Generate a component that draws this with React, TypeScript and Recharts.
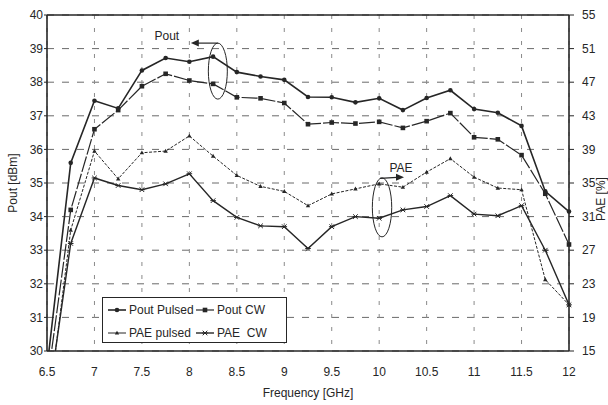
import React from 'react';
import { LineChart, Line, XAxis, YAxis, CartesianGrid, ReferenceLine, ReferenceDot } from 'recharts';

// values (Pout in dBm, PAE in %)
const freqs = [6.5, 6.75, 7, 7.25, 7.5, 7.75, 8, 8.25, 8.5, 8.75, 9, 9.25, 9.5, 9.75, 10, 10.25, 10.5, 10.75, 11, 11.25, 11.5, 11.75, 12];
const poutPulsed = [29.5, 35.6, 37.45, 37.22, 38.35, 38.72, 38.61, 38.76, 38.3, 38.17, 38.07, 37.56, 37.55, 37.4, 37.52, 37.17, 37.53, 37.76, 37.2, 37.09, 36.7, 34.75, 34.15];
const poutCW = [29.0, 34.2, 36.6, 37.17, 37.88, 38.25, 38.05, 37.95, 37.55, 37.52, 37.38, 36.75, 36.8, 36.77, 36.82, 36.64, 36.84, 37.08, 36.36, 36.3, 35.83, 34.68, 33.17];
const paePulsed = [7, 29.4, 38.8, 35.5, 38.6, 38.8, 40.6, 38.2, 35.9, 34.6, 34.0, 32.3, 33.7, 34.3, 34.9, 34.5, 36.3, 37.9, 35.7, 34.4, 34.2, 23.5, 20.5];
const paeCW = [8, 27.8, 35.6, 34.7, 34.2, 34.9, 36.1, 32.9, 30.9, 29.9, 29.8, 27.2, 29.8, 31.0, 30.8, 31.8, 32.2, 33.5, 31.3, 31.1, 32.3, 27.0, 20.5];

const freqTicks = [6.5, 7, 7.5, 8, 8.5, 9, 9.5, 10, 10.5, 11, 11.5, 12];
const poutTicks = [30, 31, 32, 33, 34, 35, 36, 37, 38, 39, 40];
const paeTicks = [15, 19, 23, 27, 31, 35, 39, 43, 47, 51, 55];

const data = freqs.map((f, i) => ({
  f,
  poutPulsed: poutPulsed[i],
  poutCW: poutCW[i],
  paePulsed: paePulsed[i],
  paeCW: paeCW[i],
}));

const INK = '#262626';
const FONT = '"Liberation Sans", Arial, sans-serif';

const Marker = ({ kind, cx, cy }: { kind: string; cx: number; cy: number }) => {
  if (kind === 'circle') return <circle cx={cx} cy={cy} r={2.3} fill={INK} />;
  if (kind === 'square') return <rect x={cx - 2.3} y={cy - 2.3} width={4.6} height={4.6} fill={INK} />;
  if (kind === 'tri') return <path d={`M${cx},${cy - 2.3}L${cx + 2.2},${cy + 1.6}L${cx - 2.2},${cy + 1.6}Z`} fill={INK} />;
  return (
    <path
      d={`M${cx - 2.3},${cy - 2.3}L${cx + 2.3},${cy + 2.3}M${cx - 2.3},${cy + 2.3}L${cx + 2.3},${cy - 2.3}M${cx - 2.8},${cy}L${cx + 2.8},${cy}`}
      stroke={INK}
      strokeWidth={1}
    />
  );
};

// hide markers of the points that sit below the axis floor
const makeDot = (kind: string, floor: number) => (p: any) => {
  if (p.value == null || p.value < floor) return <g key={`h-${p.index}`} />;
  return (
    <g key={`d-${kind}-${p.index}`}>
      <Marker kind={kind} cx={p.cx} cy={p.cy} />
    </g>
  );
};

const SERIES = [
  { key: 'poutPulsed', name: 'Pout Pulsed', axis: 'left', floor: 30, marker: 'circle', width: 1.6, dash: undefined },
  { key: 'poutCW', name: 'Pout CW', axis: 'left', floor: 30, marker: 'square', width: 1.2, dash: '16 2' },
  { key: 'paePulsed', name: 'PAE pulsed', axis: 'right', floor: 15, marker: 'tri', width: 1, dash: '3 1.5' },
  { key: 'paeCW', name: 'PAE  CW', axis: 'right', floor: 15, marker: 'cross', width: 1.4, dash: undefined },
];

const PoutNote = (p: any) => {
  const { cx, cy } = p;
  return (
    <g>
      <ellipse cx={cx} cy={cy} rx={9.5} ry={28} fill="none" stroke={INK} strokeWidth={1} />
      <line x1={cx} y1={cy - 28} x2={cx - 21} y2={cy - 28} stroke={INK} strokeWidth={1.2} />
      <path d={`M${cx - 27},${cy - 28} l8,-3.5 l0,7 z`} fill={INK} />
      <text x={cx - 51} y={cy - 31} textAnchor="middle" fontSize={12} fill={INK} fontFamily={FONT}>
        Pout
      </text>
    </g>
  );
};

const PaeNote = (p: any) => {
  const { cx, cy } = p;
  return (
    <g>
      <ellipse cx={cx} cy={cy} rx={9.7} ry={29.5} fill="none" stroke={INK} strokeWidth={1} />
      <line x1={cx - 2} y1={cy - 29} x2={cx + 15} y2={cy - 30} stroke={INK} strokeWidth={1.2} />
      <path d={`M${cx + 22},${cy - 30} l-8,-3.5 l0,7 z`} fill={INK} />
      <text x={cx + 19} y={cy - 35} textAnchor="middle" fontSize={12} fill={INK} fontFamily={FONT}>
        PAE
      </text>
    </g>
  );
};

// right axis title sits at the page edge, a little below the middle
const PaeTitle = (props: any) => {
  const vb = props.viewBox;
  if (!vb) return null;
  const x = vb.x + vb.width - 7;
  const y = vb.y + vb.height / 2 + 16;
  return (
    <text x={x} y={y} transform={`rotate(-90 ${x} ${y})`} textAnchor="middle" dominantBaseline="central" fontSize={12} fill={INK} fontFamily={FONT}>
      PAE [%]
    </text>
  );
};

const LegendBox = () => (
  <div
    style={{
      position: 'absolute',
      left: 102,
      top: 297,
      width: 185,
      height: 46,
      boxSizing: 'border-box',
      border: `1.2px solid ${INK}`,
      background: '#fff',
    }}
  >
    <svg width={183} height={44}>
      {SERIES.map((s, i) => {
        const x = i % 2 === 0 ? 5 : 93;
        const y = i < 2 ? 12 : 35;
        return (
          <g key={s.key}>
            <line x1={x} y1={y} x2={x + 18} y2={y} stroke={INK} strokeWidth={s.width} />
            <Marker kind={s.marker} cx={x + 9} cy={y} />
            <text x={x + 21} y={y + 4} fontSize={12} fill={INK} fontFamily={FONT} style={{ whiteSpace: 'pre' }}>
              {s.name}
            </text>
          </g>
        );
      })}
    </svg>
  </div>
);

export default function App() {
  const tick = { fontSize: 12, fill: INK, fontFamily: FONT };
  return (
    <div style={{ position: 'absolute', left: 0, top: 0, width: 608, height: 405, background: '#fff', fontFamily: FONT, overflow: 'hidden' }}>
      <LineChart width={608} height={405} data={data} margin={{ top: 15, right: 0, bottom: 0, left: 0 }}>
        <CartesianGrid yAxisId="left" vertical={false} stroke="#6a6a6a" strokeDasharray="7 8" />
        <CartesianGrid yAxisId="left" horizontal={false} stroke="#8a8a8a" strokeDasharray="4 9" />
        <XAxis
          dataKey="f"
          type="number"
          domain={[6.5, 12]}
          ticks={freqTicks}
          height={54}
          tickLine={false}
          tickSize={6}
          tickMargin={10}
          axisLine={{ stroke: INK, strokeWidth: 1.6 }}
          tick={tick}
          label={{ value: 'Frequency [GHz]', position: 'insideBottom', offset: 8, style: { fontSize: 12, fill: INK, fontFamily: FONT } }}
        />
        <YAxis
          yAxisId="left"
          domain={[30, 40]}
          ticks={poutTicks}
          allowDataOverflow
          width={47}
          tickSize={3}
          tickMargin={1}
          tickLine={{ stroke: INK }}
          axisLine={{ stroke: INK, strokeWidth: 1.6 }}
          tick={tick}
          label={{ value: 'Pout [dBm]', angle: -90, position: 'insideLeft', offset: 13, style: { textAnchor: 'middle', fontSize: 12, fill: INK, fontFamily: FONT } }}
        />
        <YAxis
          yAxisId="right"
          orientation="right"
          domain={[15, 55]}
          ticks={paeTicks}
          allowDataOverflow
          width={39}
          tickSize={5}
          tickMargin={8}
          tickLine={{ stroke: INK }}
          axisLine={{ stroke: INK, strokeWidth: 1.6 }}
          tick={tick}
          label={{ content: PaeTitle }}
        />
        <ReferenceLine yAxisId="left" y={40} stroke={INK} strokeWidth={1.6} />
        {SERIES.map((s) => (
          <Line
            key={s.key}
            yAxisId={s.axis}
            dataKey={s.key}
            name={s.name}
            stroke={INK}
            strokeWidth={s.width}
            strokeDasharray={s.dash}
            dot={makeDot(s.marker, s.floor)}
            activeDot={false}
            isAnimationActive={false}
          />
        ))}
        <ReferenceDot yAxisId="left" x={8.3} y={38.33} r={0} shape={PoutNote} />
        <ReferenceDot yAxisId="right" x={10.03} y={32.1} r={0} shape={PaeNote} />
      </LineChart>
      <LegendBox />
    </div>
  );
}
